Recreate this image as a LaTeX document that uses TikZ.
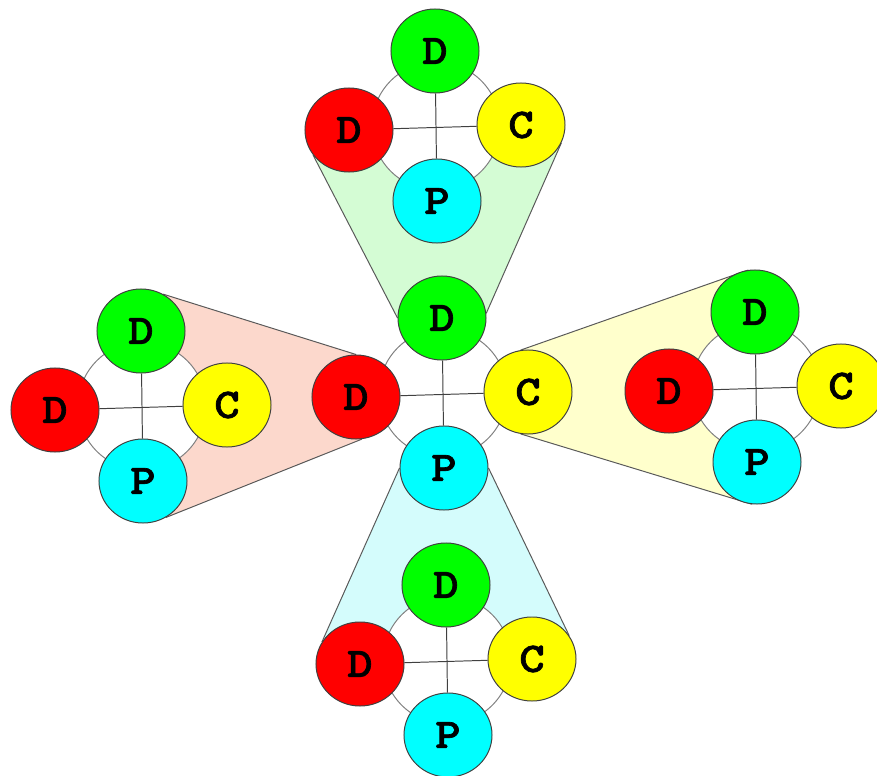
\documentclass[tikz,border=0pt]{standalone}
\usepackage{fontspec}
\newfontfamily\monob[FakeBold=1.6, FakeStretch=1.15]{lmmonolt10-bold.otf}
\usetikzlibrary{shapes.geometric, backgrounds}

\definecolor{ballgreen}{RGB}{0,255,0}
\definecolor{ballred}{RGB}{255,0,0}
\definecolor{ballyellow}{RGB}{255,255,0}
\definecolor{ballcyan}{RGB}{0,255,255}
\definecolor{conegreen}{RGB}{212,252,212}
\definecolor{conepink}{RGB}{252,216,204}
\definecolor{coneyellow}{RGB}{255,255,204}
\definecolor{conecyan}{RGB}{212,252,252}

\tikzset{
  ball/.style={ellipse, draw=black!75, line width=0.7pt, minimum width=2.2cm, minimum height=2.1cm, inner sep=0pt, font=\monob\fontsize{30}{30}\selectfont},
  ring/.style={draw=black!50, fill=white, line width=0.7pt},
  spoke/.style={draw=black!75, line width=0.7pt},
  cone/.style={draw=black!65, line width=0.7pt},
}

\begin{document}
\begin{tikzpicture}[x=0.025cm, y=-0.025cm]
    \useasboundingbox (0,0) rectangle (877,776);
    % 五組 D-D-C-P
    \foreach \k/\cx/\cy in {top/436/126, left/142/406, mid/443/393, right/756/387, bot/447/660}{
        \coordinate (\k-o) at (\cx,\cy);
        \node[ball, fill=ballgreen]  (\k-dg) at (\cx-1,\cy-75) {D};
        \node[ball, fill=ballred]    (\k-dr) at (\cx-87,\cy+4) {D};
        \node[ball, fill=ballyellow] (\k-c)  at (\cx+85,\cy-1) {C};
        \node[ball, fill=ballcyan]   (\k-p)  at (\cx+1,\cy+75) {P};
    }
    \begin{scope}[on background layer]
        % 上方錐形
        \fill[conegreen] (top-dr.215) -- (top-dr.center) -- (top-c.center) -- (top-c.336) -- (mid-dg.6) -- (mid-dg.180) -- cycle;
        \draw[cone] (top-dr.215) -- (mid-dg.180);
        \draw[cone] (top-c.336) -- (mid-dg.6);
        % 左方錐形
        \fill[conepink] (left-dg.59) -- (mid-dr.90) -- (mid-dr.278) -- (left-p.302) -- (left-p.center) -- (left-dg.center) -- cycle;
        \draw[cone] (left-dg.59) -- (mid-dr.90);
        \draw[cone] (left-p.302) -- (mid-dr.278);
        % 右方錐形
        \fill[coneyellow] (mid-c.100) -- (right-dg.99) -- (right-dg.center) -- (right-p.center) -- (right-p.263) -- (mid-c.260) -- cycle;
        \draw[cone] (mid-c.100) -- (right-dg.99);
        \draw[cone] (mid-c.260) -- (right-p.263);
        % 下方錐形
        \fill[conecyan] (mid-p.180) -- (bot-dr.150) -- (bot-dr.center) -- (bot-c.center) -- (bot-c.32) -- (mid-p.0) -- cycle;
        \draw[cone] (mid-p.180) -- (bot-dr.150);
        \draw[cone] (mid-p.0) -- (bot-c.32);
        % 圓環與十字
        \foreach \k in {top,left,mid,right,bot}{
            \draw[ring] (\k-o) circle[radius=64];
            \draw[spoke] (\k-dr) -- (\k-c);
            \draw[spoke] (\k-dg) -- (\k-p);
        }
    \end{scope}
\end{tikzpicture}
\end{document}
